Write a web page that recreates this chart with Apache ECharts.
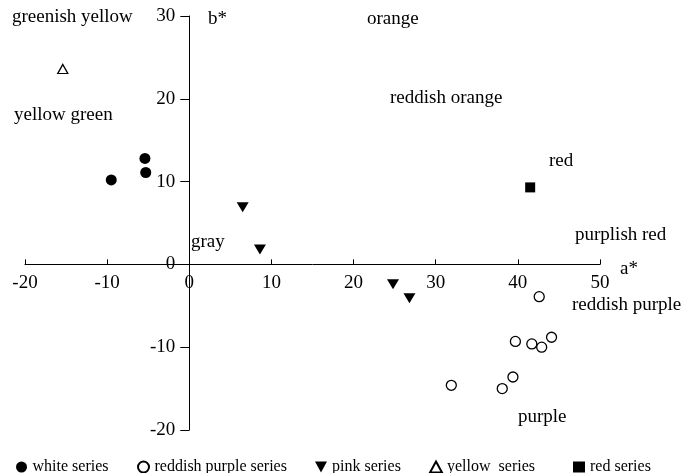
<!DOCTYPE html>
<html>
<head>
<meta charset="utf-8">
<script src="https://cdn.jsdelivr.net/npm/echarts@6/dist/echarts.min.js"></script>
<style>
  html, body { margin: 0; padding: 0; background: #fff; }
  #chart { width: 686px; height: 473px; }
</style>
</head>
<body>
<div id="chart"></div>
<script>
// a*, b* values
var whiteSeries = [[-9.5, 10.2], [-5.4, 12.8], [-5.3, 11.1]];
var reddishPurpleSeries = [[42.6, -3.9], [39.7, -9.3], [41.7, -9.6], [42.9, -10.0], [44.1, -8.8], [39.4, -13.6], [38.1, -15.0], [31.9, -14.6]];
var pinkSeries = [[6.5, 6.9], [8.6, 1.8], [24.8, -2.4], [26.8, -4.1]];
var yellowSeries = [[-15.4, 23.6]];
var redSeries = [[41.5, 9.3]];

var xRange = [-20, 50];
var yRange = [-20, 30];
var tickStep = 10;

var FONT = '"Liberation Serif", "DejaVu Serif", serif';
var downTri = 'path://M0,0 L10,0 L5,9 Z';

// colour-region captions (left edge, vertical centre in px)
var regionLabels = [
  ['greenish yellow', 12, 18],
  ['yellow green', 14, 116],
  ['b*', 208, 20],
  ['orange', 367, 20],
  ['reddish orange', 390, 99],
  ['red', 549, 162],
  ['purplish red', 575, 236],
  ['a*', 620, 270],
  ['reddish purple', 572, 306],
  ['purple', 518, 418],
  ['gray', 191, 243]
];

// plot box, axes are shifted so they cross at (0, 0)
var W = 686, H = 473;
var grid = { left: 25, right: 86, top: 16, bottom: 43 };
var gw = W - grid.left - grid.right;
var gh = H - grid.top - grid.bottom;
var xZero = gw * (0 - xRange[0]) / (xRange[1] - xRange[0]);
var yZero = gh * (0 - yRange[0]) / (yRange[1] - yRange[0]);

var chart = echarts.init(document.getElementById('chart'));

function legendAt(name, left) {
  return {
    data: [name],
    left: left,
    top: 454,
    itemWidth: 12,
    itemHeight: 11,
    itemGap: 0,
    textStyle: { fontFamily: FONT, fontSize: 16, color: '#000' }
  };
}

chart.setOption({
  animation: false,
  backgroundColor: '#fff',
  grid: {
    left: grid.left, right: grid.right, top: grid.top, bottom: grid.bottom,
    containLabel: false, outerBoundsMode: 'none'
  },
  xAxis: {
    type: 'value',
    min: xRange[0], max: xRange[1], interval: tickStep,
    offset: -yZero,
    splitLine: { show: false },
    axisLine: { onZero: false, lineStyle: { color: '#000', width: 1 } },
    axisTick: { show: true, inside: true, length: 5, lineStyle: { color: '#000' } },
    axisLabel: { color: '#000', fontFamily: FONT, fontSize: 19, margin: 9 }
  },
  yAxis: {
    type: 'value',
    min: yRange[0], max: yRange[1], interval: tickStep,
    offset: -xZero,
    splitLine: { show: false },
    axisLine: { onZero: false, lineStyle: { color: '#000', width: 1 } },
    axisTick: { show: true, inside: false, length: 9, lineStyle: { color: '#000' } },
    axisLabel: { color: '#000', fontFamily: FONT, fontSize: 19, margin: 14 }
  },
  legend: [
    legendAt('white series', 11),
    legendAt('reddish purple series', 132),
    legendAt('pink series', 310),
    legendAt('yellow  series', 424),
    legendAt('red series', 568)
  ],
  series: [
    {
      name: 'white series', type: 'scatter', data: whiteSeries,
      symbol: 'circle', symbolSize: 11,
      itemStyle: { color: '#000', opacity: 1 }
    },
    {
      name: 'reddish purple series', type: 'scatter', data: reddishPurpleSeries,
      symbol: 'circle', symbolSize: 10,
      itemStyle: { color: '#fff', borderColor: '#000', borderWidth: 1.3, opacity: 1 }
    },
    {
      name: 'pink series', type: 'scatter', data: pinkSeries,
      symbol: downTri, symbolSize: [12, 10],
      itemStyle: { color: '#000', opacity: 1 }
    },
    {
      name: 'yellow  series', type: 'scatter', data: yellowSeries,
      symbol: 'triangle', symbolSize: [10, 9],
      itemStyle: { color: '#fff', borderColor: '#000', borderWidth: 1.3, opacity: 1 }
    },
    {
      name: 'red series', type: 'scatter', data: redSeries,
      symbol: 'rect', symbolSize: 10,
      itemStyle: { color: '#000', opacity: 1 }
    }
  ],
  graphic: regionLabels.map(function (l) {
    return {
      type: 'text', left: l[1], top: l[2] - 10, silent: true,
      style: { text: l[0], fill: '#000', font: '19px ' + FONT }
    };
  })
});
</script>
</body>
</html>
